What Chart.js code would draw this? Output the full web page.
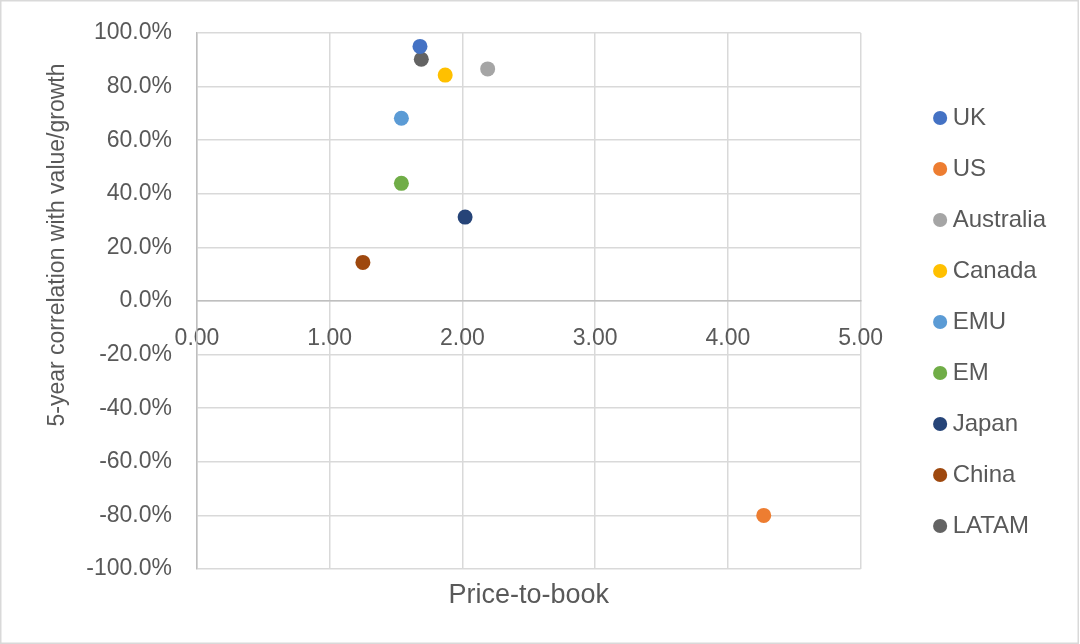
<!DOCTYPE html>
<html>
<head>
<meta charset="utf-8">
<title>Price-to-book vs correlation</title>
<script src="https://cdn.jsdelivr.net/npm/chart.js@4.4.1/dist/chart.umd.min.js"></script>
<style>
  html, body { margin: 0; padding: 0; background: #fff; }
  #wrap { position: relative; width: 1080px; height: 644px; }
</style>
</head>
<body>
<div id="wrap"><canvas id="chart"></canvas></div>
<script>
const markets = ['UK', 'US', 'Australia', 'Canada', 'EMU', 'EM', 'Japan', 'China', 'LATAM'];
const priceToBook = [1.68, 4.27, 2.19, 1.87, 1.54, 1.54, 2.02, 1.25, 1.69];
const correlation = [95.0, -80.0, 86.6, 84.3, 68.2, 43.9, 31.3, 14.4, 90.2];
const colors = ['#4472C4', '#ED7D31', '#A5A5A5', '#FFC000', '#5B9BD5', '#70AD47', '#264478', '#9E480E', '#636363'];
const xTickValues = [0, 1, 2, 3, 4, 5];
const yTickValues = [-100, -80, -60, -40, -20, 0, 20, 40, 60, 80, 100];
const xTitle = 'Price-to-book';
const yTitle = '5-year correlation with value/growth';

const textColor = '#595959';
const fontFamily = '"Liberation Sans", Arial, sans-serif';

// each market is its own series so it gets its own legend entry
const datasets = markets.map((name, i) => ({
    label: name,
    data: [{ x: priceToBook[i], y: correlation[i] }],
    backgroundColor: colors[i],
    borderColor: colors[i],
    borderWidth: 0,
    pointStyle: 'circle',
    pointRadius: 7.5,
    pointHoverRadius: 7.5
}));

// y title sits off-centre in the original, so it is drawn by hand, plus the outer frame
const extras = {
    id: 'extras',
    afterDraw(chart) {
        const ctx = chart.ctx;
        ctx.save();
        ctx.fillStyle = textColor;
        ctx.font = '23px ' + fontFamily;
        ctx.textAlign = 'center';
        ctx.textBaseline = 'middle';
        ctx.translate(58, 245);
        ctx.rotate(-Math.PI / 2);
        ctx.fillText(yTitle, 0, 0);
        ctx.restore();

        ctx.save();
        ctx.strokeStyle = '#d9d9d9';
        ctx.lineWidth = 1.5;
        ctx.strokeRect(0.75, 0.75, chart.width - 2.5, chart.height - 1.5);
        ctx.restore();
    }
};

function hiddenAxis(position, size) {
    const horizontal = position === 'top' || position === 'bottom';
    return {
        type: 'linear',
        position: position,
        display: true,
        ticks: { display: false },
        grid: { display: false },
        border: { display: false },
        afterFit(scale) {
            if (horizontal) scale.height = size; else scale.width = size;
        }
    };
}

const bottomAxis = hiddenAxis('bottom', 75);
bottomAxis.title = {
    display: true,
    text: xTitle,
    color: textColor,
    font: { family: fontFamily, size: 27 },
    padding: { top: 0, bottom: 32 }
};

new Chart(document.getElementById('chart'), {
    type: 'scatter',
    data: { datasets: datasets },
    options: {
        responsive: true,
        maintainAspectRatio: false,
        animation: false,
        layout: { padding: { left: 0, right: 24, top: 0, bottom: 0 } },
        plugins: {
            legend: {
                position: 'right',
                align: 'center',
                labels: {
                    usePointStyle: true,
                    pointStyle: 'circle',
                    boxWidth: 1,
                    boxHeight: 10,
                    padding: 27,
                    color: textColor,
                    font: { family: fontFamily, size: 24 }
                }
            },
            tooltip: { enabled: false }
        },
        scales: {
            x: {
                type: 'linear',
                position: { y: 0 },
                min: xTickValues[0],
                max: xTickValues[xTickValues.length - 1],
                afterBuildTicks(scale) {
                    scale.ticks = xTickValues.map(v => ({ value: v }));
                },
                grid: { color: '#d9d9d9', lineWidth: 1.5, drawTicks: false },
                border: { color: '#bfbfbf', width: 1.5 },
                ticks: {
                    padding: 24,
                    color: textColor,
                    font: { family: fontFamily, size: 23 },
                    maxRotation: 0,
                    callback: v => v.toFixed(2)
                }
            },
            y: {
                type: 'linear',
                position: 'left',
                min: yTickValues[0],
                max: yTickValues[yTickValues.length - 1],
                afterBuildTicks(scale) {
                    scale.ticks = yTickValues.map(v => ({ value: v }));
                },
                afterFit(scale) {
                    scale.width = 197;
                    // the wide label padding should not push the plot down
                    scale.paddingTop = 0;
                    scale.paddingBottom = 0;
                },
                grid: { color: '#d9d9d9', lineWidth: 1.5, drawTicks: false },
                border: { color: '#bfbfbf', width: 1.5 },
                ticks: {
                    padding: 25,
                    color: textColor,
                    font: { family: fontFamily, size: 23 },
                    callback: v => v.toFixed(1) + '%'
                }
            },
            xt: hiddenAxis('top', 33),
            xb: bottomAxis,
            yr: hiddenAxis('right', 52)
        }
    },
    plugins: [extras]
});
</script>
</body>
</html>
